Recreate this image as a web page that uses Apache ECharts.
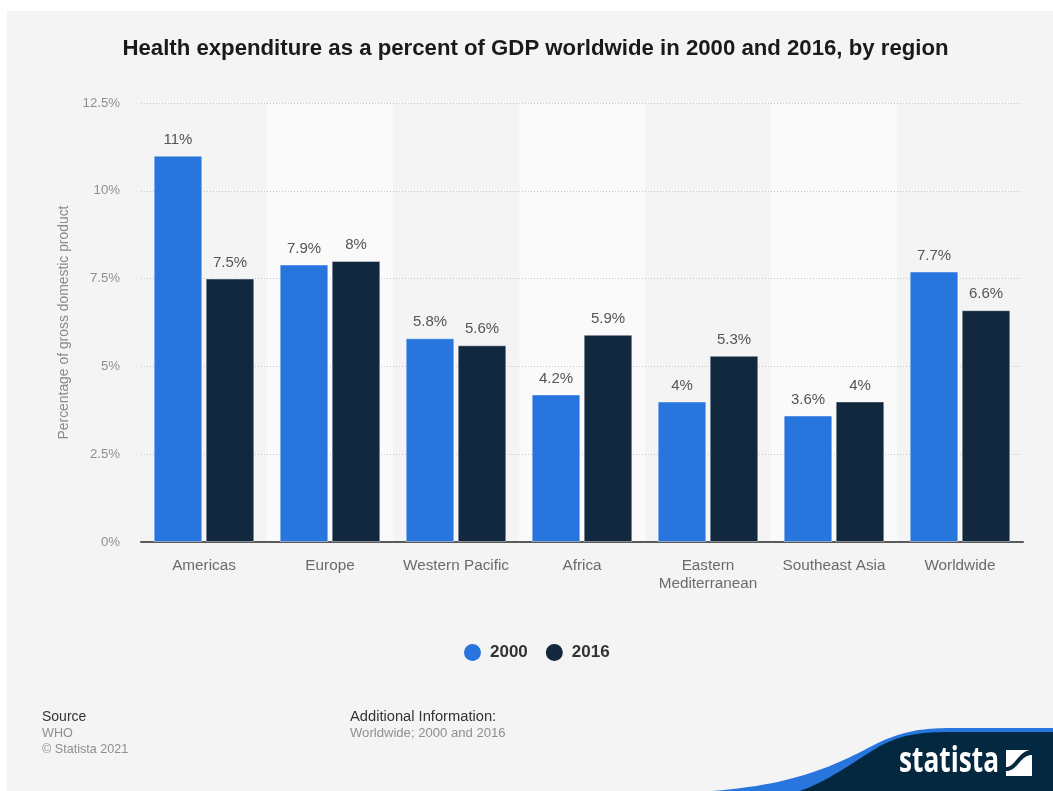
<!DOCTYPE html>
<html>
<head>
<meta charset="utf-8">
<style>html,body{margin:0;padding:0;background:#fff}#chart{width:1053px;height:791px}</style>
<script src="https://cdn.jsdelivr.net/npm/echarts@6/dist/echarts.min.js"></script>
</head>
<body>
<div id="chart"></div>
<script>
const categories = ['Americas', 'Europe', 'Western Pacific', 'Africa', 'Eastern\nMediterranean', 'Southeast Asia', 'Worldwide'];
const values2000 = [11, 7.9, 5.8, 4.2, 4, 3.6, 7.7];
const values2016 = [7.5, 8, 5.6, 5.9, 5.3, 4, 6.6];
const yTicks = [0, 2.5, 5, 7.5, 10, 12.5];

const FONT = '"Liberation Sans", Arial, sans-serif';
const BLUE = '#2975de';
const NAVY = '#12283f';
const LOGO_NAVY = '#03283f';
const pct = v => v + '%';

// Flattens a run of cubic segments [c1x,c1y,c2x,c2y,x,y] into polygon points.
function curve(start, segments, tail) {
  const pts = [start];
  let p = start;
  segments.forEach(s => {
    for (let i = 1; i <= 24; i++) {
      const t = i / 24, u = 1 - t;
      pts.push([
        u*u*u*p[0] + 3*u*u*t*s[0] + 3*u*t*t*s[2] + t*t*t*s[4],
        u*u*u*p[1] + 3*u*u*t*s[1] + 3*u*t*t*s[3] + t*t*t*s[5]
      ]);
    }
    p = [s[4], s[5]];
  });
  return pts.concat(tail);
}

function barSeries(name, data, color) {
  return {
    name, type: 'bar', data, barWidth: 48.6, barGap: '7%',
    itemStyle: { color, borderColor: 'rgba(255,255,255,0.4)', borderWidth: 1 },
    label: {
      show: true, position: 'top', distance: 8.5, formatter: p => pct(p.value),
      color: '#555555', fontFamily: FONT, fontSize: 15
    }
  };
}

const chart = echarts.init(document.getElementById('chart'), null, { renderer: 'canvas' });
chart.setOption({
  animation: false,
  backgroundColor: '#ffffff',
  title: {
    text: 'Health expenditure as a percent of GDP worldwide in 2000 and 2016, by region',
    left: 530.5, top: 33, textAlign: 'center',
    textStyle: { fontFamily: FONT, fontSize: 22.2, fontWeight: 'bold', color: '#1a1a1a' }
  },
  legend: {
    data: ['2000', '2016'], left: 459, top: 639, icon: 'circle', itemWidth: 17, itemHeight: 17, itemGap: 18, itemStyle: { borderWidth: 0 },
    textStyle: { fontFamily: FONT, fontSize: 17, fontWeight: 'bold', color: '#333333', padding: [0, 0, 0, 4] },
    selectedMode: false
  },
  grid: { left: 141, width: 882, top: 103, height: 439, containLabel: false },
  xAxis: {
    type: 'category', data: categories, z: 0,
    axisLine: { lineStyle: { color: '#5a5a5a', width: 2 } },
    axisTick: { show: false },
    axisLabel: { color: '#6b6b6b', fontFamily: FONT, fontSize: 15.3, margin: 15, lineHeight: 18, interval: 0 },
    splitArea: { show: true, interval: 0, areaStyle: { color: ['#f4f4f4', '#fafafa'] } }
  },
  yAxis: {
    type: 'value', z: 1, min: yTicks[0], max: yTicks[yTicks.length - 1], interval: 2.5,
    name: 'Percentage of gross domestic product', nameLocation: 'middle', nameGap: 70, nameRotate: 90,
    nameTextStyle: { color: '#8a8a8a', fontFamily: FONT, fontSize: 13.9 },
    axisLine: { show: false }, axisTick: { show: false },
    axisLabel: { color: '#8f8f8f', fontFamily: FONT, fontSize: 13.2, margin: 21, padding: [2, 0, 0, 0], formatter: pct },
    splitLine: { showMinLine: false, lineStyle: { color: '#c6c6c6', type: [1, 2], width: 1 } }
  },
  series: [barSeries('2000', values2000, BLUE), barSeries('2016', values2016, NAVY)],
  graphic: [
    { type: 'rect', z: -10, silent: true, shape: { x: 7, y: 11, width: 1046, height: 780 }, style: { fill: '#f4f4f4' } },
    { type: 'text', x: 42, y: 710, style: { text: 'Source', fill: '#333333', font: '14px ' + FONT } },
    { type: 'text', x: 42, y: 727, style: { text: 'WHO', fill: '#8f8f8f', font: '12.6px ' + FONT } },
    { type: 'text', x: 42, y: 743, style: { text: '© Statista 2021', fill: '#8f8f8f', font: '12.6px ' + FONT } },
    { type: 'text', x: 350, y: 709, style: { text: 'Additional Information:', fill: '#333333', font: '14.7px ' + FONT } },
    { type: 'text', x: 350, y: 727, style: { text: 'Worldwide; 2000 and 2016', fill: '#8f8f8f', font: '13.1px ' + FONT } },
    // Footer wave behind the wordmark
    { type: 'polygon', silent: true, shape: { points: curve([712, 791], [[790, 785, 830, 768, 868, 748], [900, 731, 920, 728, 955, 728]], [[1053, 728], [1053, 791]]) }, style: { fill: BLUE } },
    { type: 'polygon', silent: true, shape: { points: curve([800, 791], [[830, 780, 850, 764, 880, 746], [905, 733, 925, 732, 955, 732]], [[1053, 732], [1053, 791]]) }, style: { fill: LOGO_NAVY } },
    { type: 'text', x: 899, y: 745, scaleX: 0.75, style: { text: 'statista', fill: '#ffffff', font: '700 35px "Open Sans", ' + FONT } },
    // Wordmark square with its curved slash
    { type: 'rect', silent: true, shape: { x: 1006, y: 750, width: 26, height: 26 }, style: { fill: '#ffffff' } },
    { type: 'polygon', silent: true, shape: { points: curve([1032, 750], [[1018, 750, 1016, 767, 1006, 767]], [[1006, 771]]).concat(curve([1006, 771], [[1018, 771, 1020, 755, 1032, 755]], [])) }, style: { fill: LOGO_NAVY } }
  ]
});
</script>
</body>
</html>
